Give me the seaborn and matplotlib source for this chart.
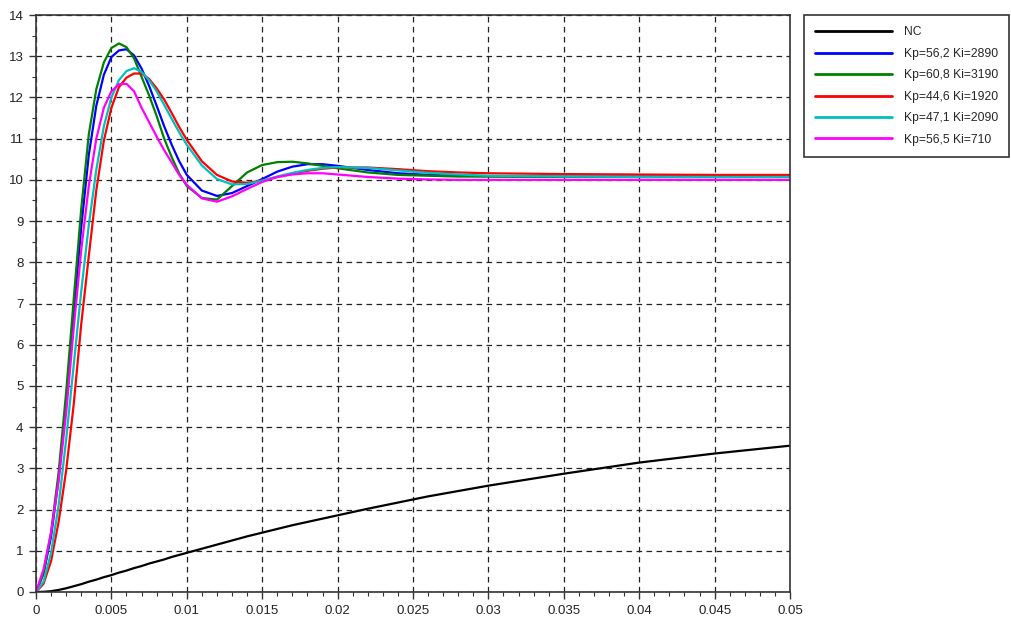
import matplotlib
matplotlib.use("Agg")
import matplotlib.pyplot as plt
import seaborn as sns
import pandas as pd
from matplotlib.ticker import MultipleLocator

# time axis (s)
t = [0, 0.0005, 0.001, 0.0015, 0.002, 0.0025, 0.003, 0.0035, 0.004, 0.0045,
     0.005, 0.0055, 0.006, 0.0065, 0.007, 0.0075, 0.008, 0.0085, 0.009, 0.0095,
     0.01, 0.011, 0.012, 0.013, 0.014, 0.015, 0.016, 0.017, 0.018, 0.019,
     0.02, 0.022, 0.024, 0.026, 0.028, 0.03, 0.035, 0.04, 0.045, 0.05]

nc = [0, 0.005, 0.02, 0.05, 0.09, 0.14, 0.19, 0.25, 0.30, 0.36,
      0.41, 0.47, 0.52, 0.58, 0.63, 0.69, 0.74, 0.79, 0.85, 0.90,
      0.95, 1.05, 1.15, 1.25, 1.35, 1.44, 1.53, 1.62, 1.70, 1.78,
      1.86, 2.02, 2.17, 2.32, 2.45, 2.58, 2.87, 3.14, 3.36, 3.55]

blue = [0, 0.45, 1.35, 2.75, 4.6, 6.75, 8.85, 10.6, 11.8, 12.55,
        12.98, 13.14, 13.17, 13.02, 12.7, 12.28, 11.8, 11.3, 10.85, 10.45,
        10.12, 9.74, 9.61, 9.68, 9.85, 10.02, 10.2, 10.32, 10.38, 10.38,
        10.34, 10.24, 10.16, 10.12, 10.1, 10.09, 10.08, 10.08, 10.08, 10.08]

green = [0, 0.45, 1.45, 2.9, 4.85, 7.1, 9.3, 11.1, 12.2, 12.85,
         13.2, 13.31, 13.22, 12.95, 12.5, 12.05, 11.55, 11.0, 10.55, 10.15,
         9.85, 9.56, 9.52, 9.85, 10.18, 10.36, 10.43, 10.44, 10.4, 10.34,
         10.28, 10.18, 10.12, 10.1, 10.08, 10.08, 10.07, 10.07, 10.07, 10.07]

red = [0, 0.2, 0.75, 1.7, 2.95, 4.55, 6.5, 8.15, 9.75, 10.95,
       11.75, 12.25, 12.48, 12.58, 12.58, 12.45, 12.22, 11.95, 11.62, 11.28,
       10.97, 10.45, 10.12, 9.96, 9.93, 9.98, 10.07, 10.15, 10.22, 10.27,
       10.3, 10.3, 10.26, 10.21, 10.18, 10.16, 10.14, 10.13, 10.12, 10.12]

cyan = [0, 0.25, 0.95, 2.1, 3.7, 5.5, 7.3, 8.9, 10.25, 11.3,
        12.0, 12.42, 12.64, 12.71, 12.62, 12.42, 12.15, 11.82, 11.48, 11.15,
        10.85, 10.35, 10.02, 9.89, 9.9, 9.98, 10.08, 10.17, 10.24, 10.29,
        10.31, 10.29, 10.23, 10.17, 10.13, 10.1, 10.08, 10.07, 10.07, 10.07]

magenta = [0, 0.55, 1.45, 2.7, 4.35, 6.4, 8.3, 9.85, 11.0, 11.75,
           12.15, 12.32, 12.33, 12.15, 11.75, 11.4, 11.05, 10.72, 10.42, 10.12,
           9.88, 9.55, 9.47, 9.6, 9.78, 9.95, 10.07, 10.13, 10.16, 10.16,
           10.13, 10.07, 10.03, 10.01, 10.0, 10.0, 10.0, 10.0, 10.0, 10.0]

labels = ["NC", "Kp=56,2 Ki=2890", "Kp=60,8 Ki=3190", "Kp=44,6 Ki=1920",
          "Kp=47,1 Ki=2090", "Kp=56,5 Ki=710"]
colors = ["#000000", "#0000ff", "#008000", "#ff0000", "#00bfbf", "#ff00ff"]
series = [nc, blue, green, red, cyan, magenta]

xticks = [0, 0.005, 0.01, 0.015, 0.02, 0.025, 0.03, 0.035, 0.04, 0.045, 0.05]
xticklabels = ["0", "0.005", "0.01", "0.015", "0.02", "0.025", "0.03",
               "0.035", "0.04", "0.045", "0.05"]
yticks = list(range(0, 15))

rows = []
for lab, ys in zip(labels, series):
    for x, y in zip(t, ys):
        rows.append({"t": x, "v": y, "s": lab})
df = pd.DataFrame(rows)

sns.set_style("white")
plt.rcParams['font.family'] = ['Liberation Sans', 'DejaVu Sans']

fig = plt.figure(figsize=(10.12, 6.22), dpi=100)
ax = fig.add_axes([36 / 1012, 1 - 592 / 622, 754 / 1012, 577 / 622])

sns.lineplot(data=df, x="t", y="v", hue="s", hue_order=labels,
             palette=dict(zip(labels, colors)), linewidth=1.6, ax=ax,
             legend=True)

ax.set_xlim(0, 0.05)
ax.set_ylim(0, 14)
ax.set_xticks(xticks)
ax.set_xticklabels(xticklabels)
ax.set_yticks(yticks)
ax.xaxis.set_minor_locator(MultipleLocator(0.001))
ax.yaxis.set_minor_locator(MultipleLocator(0.5))
ax.tick_params(which="both", bottom=True, left=True, top=False, right=False)
ax.tick_params(which="major", direction="out", length=5, width=1,
               color="#333333", labelsize=9.5, pad=4, labelcolor="#222222")
ax.tick_params(which="minor", direction="out", length=3, width=0.8,
               color="#333333")
ax.set_xlabel("")
ax.set_ylabel("")
ax.grid(True, which="major", color="#222222", linewidth=0.9,
        linestyle=(0, (4.5, 3.5)))
for sp in ax.spines.values():
    sp.set_color("#333333")
    sp.set_linewidth(1.2)

h, l = ax.get_legend_handles_labels()
ax.legend_.remove()
leg = fig.legend(h, l, loc="upper left",
                 bbox_to_anchor=(804 / 1012, 1 - 15 / 622),
                 bbox_transform=fig.transFigure, borderaxespad=0,
                 fontsize=8.7, handlelength=6.3, handletextpad=1.0,
                 labelspacing=0.78, borderpad=0.95, fancybox=False,
                 edgecolor="#333333", framealpha=1)
leg.get_frame().set_linewidth(1.2)
for ln in leg.get_lines():
    ln.set_linewidth(2)

fig.savefig("out.png", dpi=100)
